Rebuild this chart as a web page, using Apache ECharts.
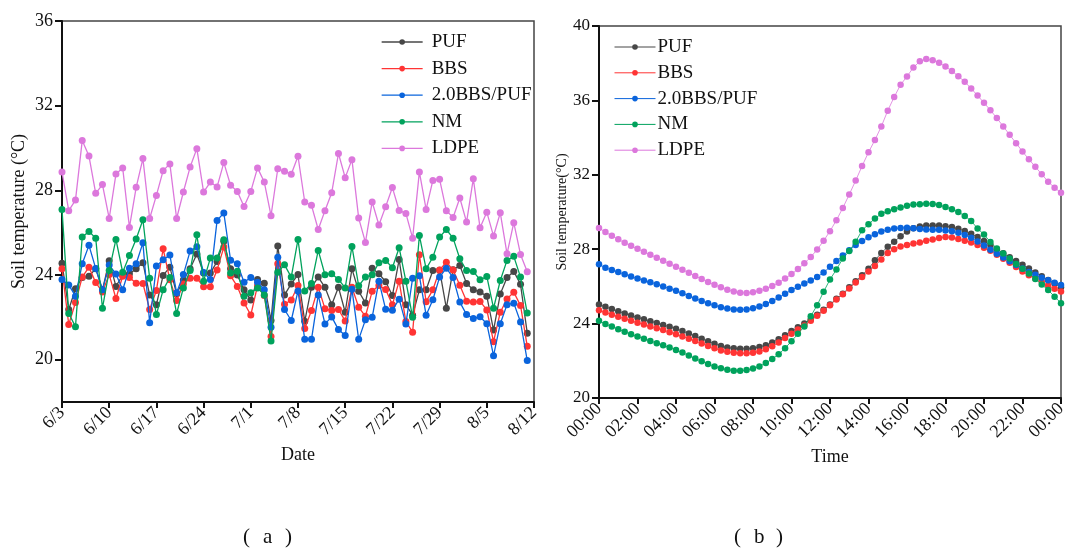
<!DOCTYPE html>
<html><head><meta charset="utf-8">
<script src="https://cdn.jsdelivr.net/npm/echarts@6/dist/echarts.min.js"></script>
<style>html,body{margin:0;padding:0;background:#fff}#c{width:1070px;height:551px}</style>
</head><body><div id="c"></div>
<script>
// ---------- Panel (a): daily soil temperature ----------
const dates = ['6/3','6/4','6/5','6/6','6/7','6/8','6/9','6/10','6/11','6/12','6/13','6/14','6/15','6/16','6/17','6/18','6/19','6/20','6/21','6/22','6/23','6/24','6/25','6/26','6/27','6/28','6/29','6/30',
'7/1','7/2','7/3','7/4','7/5','7/6','7/7','7/8','7/9','7/10','7/11','7/12','7/13','7/14','7/15','7/16','7/17','7/18','7/19','7/20','7/21','7/22','7/23','7/24','7/25','7/26','7/27','7/28','7/29','7/30','7/31',
'8/1','8/2','8/3','8/4','8/5','8/6','8/7','8/8','8/9','8/10','8/11','8/12'];
const dayPUF = [24.56,22.37,23.35,23.88,23.94,24.3,23.3,24.67,23.46,24.0,24.06,24.29,24.58,23.05,22.6,23.98,24.37,23.1,23.76,24.3,24.99,24.1,24.09,24.64,25.6,24.3,24.0,23.3,22.82,23.79,23.61,21.85,25.37,23.06,23.58,24.02,21.81,23.42,23.9,23.42,22.59,23.42,22.24,24.29,23.23,22.68,24.32,24.06,23.68,23.03,24.73,22.6,22.1,23.3,23.3,24.21,24.23,22.43,24.25,24.45,23.6,23.3,23.2,23.0,21.4,23.1,23.88,24.17,23.56,21.25];
const dayBBS = [24.29,21.66,22.7,23.9,24.37,23.64,23.2,24.02,22.89,23.94,23.88,23.61,23.6,22.37,23.27,25.24,23.77,22.79,23.58,23.85,23.85,23.44,23.44,24.24,25.32,23.96,23.46,22.68,22.11,23.5,23.03,21.1,24.53,22.62,22.82,23.5,21.47,22.32,23.42,22.41,22.32,22.37,21.83,23.42,22.48,22.05,23.23,23.5,23.31,22.6,23.71,21.8,21.3,24.96,22.74,23.3,24.24,24.6,24.24,23.52,22.76,22.73,22.75,22.35,20.85,22.24,22.87,23.19,22.56,20.63];
const dayBP = [23.79,23.53,23.0,24.53,25.4,24.31,23.3,24.47,24.05,23.3,24.32,24.53,25.52,21.74,24.42,24.72,24.94,23.16,24.02,25.13,25.33,24.12,23.79,26.58,26.93,24.7,24.53,23.66,23.88,23.66,23.3,21.53,24.84,22.37,21.85,23.25,20.96,20.96,23.05,21.69,22.02,21.42,21.14,23.33,20.96,21.88,22.0,23.71,22.38,22.34,22.86,21.69,23.85,23.96,22.1,22.83,23.9,24.32,23.88,22.72,22.13,21.95,22.03,21.7,20.19,21.7,22.6,22.67,21.78,19.96];
const dayNM = [27.1,22.18,21.56,25.79,26.06,25.74,22.43,24.21,25.68,24.13,24.92,25.7,26.61,23.85,22.13,23.3,23.88,22.18,23.39,24.21,25.9,23.71,24.8,24.8,25.67,24.09,24.18,23.0,23.16,23.38,23.06,20.88,24.13,24.48,23.9,25.68,23.25,23.6,25.16,24.01,24.06,23.79,23.39,25.35,23.49,23.9,24.01,24.58,24.69,24.34,25.29,23.71,22.0,25.87,24.29,24.84,25.79,26.15,25.74,24.77,24.21,24.17,23.77,23.93,22.43,23.74,24.69,24.88,23.9,22.2];
const dayLDPE = [28.87,27.04,27.54,30.35,29.62,27.86,28.27,26.67,28.77,29.06,26.25,28.14,29.5,26.67,27.76,28.93,29.25,26.67,27.92,29.1,29.97,27.92,28.39,28.16,29.31,28.24,27.95,27.24,27.95,29.06,28.39,26.8,29.02,28.9,28.76,29.61,27.45,27.29,26.15,27.04,27.89,29.74,28.6,29.45,26.69,25.54,27.45,26.36,27.23,28.13,27.05,26.91,25.74,28.87,27.1,28.47,28.52,27.04,26.72,27.64,26.5,28.55,26.23,26.97,25.84,26.94,25.0,26.47,24.97,24.15];
const leftTicks = [20,24,28,32,36];

// ---------- Panel (b): diurnal soil temperature ----------
const times = ['00:00','00:20','00:40','01:00','01:20','01:40','02:00','02:20','02:40','03:00','03:20','03:40','04:00','04:20','04:40','05:00','05:20','05:40','06:00','06:20','06:40','07:00','07:20','07:40','08:00','08:20','08:40','09:00','09:20','09:40','10:00','10:20','10:40','11:00','11:20','11:40','12:00','12:20','12:40','13:00','13:20','13:40','14:00','14:20','14:40','15:00','15:20','15:40','16:00','16:20','16:40','17:00','17:20','17:40','18:00','18:20','18:40','19:00','19:20','19:40','20:00','20:20','20:40','21:00','21:20','21:40','22:00','22:20','22:40','23:00','23:20','23:40','00:00'];
const hrPUF = [25.03,24.9,24.78,24.66,24.54,24.43,24.33,24.23,24.13,24.03,23.93,23.83,23.72,23.6,23.47,23.33,23.19,23.05,22.92,22.8,22.72,22.67,22.65,22.65,22.68,22.74,22.84,22.98,23.16,23.38,23.6,23.8,24.0,24.22,24.47,24.74,25.03,25.33,25.6,25.95,26.28,26.6,26.95,27.4,27.8,28.13,28.4,28.7,28.95,29.12,29.22,29.27,29.28,29.27,29.24,29.19,29.1,28.98,28.83,28.65,28.44,28.22,28.0,27.78,27.57,27.37,27.17,26.96,26.75,26.55,26.35,26.15,25.95];
const hrBBS = [24.72,24.6,24.48,24.37,24.26,24.15,24.05,23.95,23.85,23.75,23.65,23.54,23.43,23.31,23.19,23.06,22.93,22.8,22.67,22.56,22.48,22.43,22.4,22.4,22.43,22.5,22.62,22.78,22.98,23.22,23.45,23.68,23.9,24.15,24.42,24.69,24.99,25.3,25.58,25.89,26.21,26.51,26.8,27.1,27.45,27.8,28.0,28.14,28.22,28.3,28.36,28.45,28.52,28.6,28.66,28.63,28.55,28.45,28.36,28.23,28.08,27.91,27.7,27.48,27.27,27.04,26.8,26.6,26.42,26.25,26.05,25.87,25.72];
const hrBP = [27.19,27.0,26.88,26.77,26.65,26.53,26.42,26.32,26.22,26.12,26.0,25.88,25.76,25.63,25.49,25.35,25.22,25.1,24.98,24.88,24.81,24.76,24.74,24.76,24.82,24.92,25.06,25.22,25.4,25.6,25.8,25.98,26.15,26.32,26.5,26.75,27.05,27.36,27.66,27.95,28.22,28.44,28.64,28.8,28.95,29.05,29.11,29.14,29.15,29.12,29.08,29.06,29.05,29.04,29.01,28.96,28.88,28.77,28.62,28.42,28.2,27.97,27.75,27.55,27.35,27.15,26.96,26.78,26.62,26.47,26.33,26.19,26.07];
const hrNM = [24.15,23.98,23.84,23.7,23.56,23.43,23.3,23.19,23.07,22.95,22.83,22.71,22.58,22.44,22.28,22.12,21.97,21.83,21.7,21.6,21.52,21.47,21.46,21.5,21.58,21.7,21.88,22.1,22.35,22.68,23.05,23.45,23.85,24.4,24.99,25.71,26.37,26.91,27.5,27.9,28.4,29.02,29.34,29.65,29.9,30.04,30.15,30.24,30.33,30.4,30.42,30.45,30.43,30.38,30.27,30.15,30.0,29.79,29.52,29.11,28.79,28.39,28.04,27.77,27.5,27.2,26.95,26.7,26.4,26.1,25.8,25.45,25.1];
const hrLDPE = [29.14,28.92,28.72,28.53,28.35,28.18,28.02,27.86,27.7,27.54,27.38,27.22,27.06,26.9,26.73,26.56,26.4,26.24,26.09,25.95,25.82,25.72,25.66,25.65,25.68,25.76,25.87,26.02,26.2,26.42,26.66,26.93,27.24,27.58,27.98,28.45,28.97,29.56,30.22,30.94,31.69,32.47,33.21,33.87,34.6,35.45,36.18,36.84,37.29,37.77,38.1,38.22,38.16,38.02,37.82,37.58,37.3,37.0,36.64,36.26,35.87,35.47,35.05,34.6,34.15,33.7,33.25,32.83,32.43,32.03,31.63,31.3,31.04];

const names = ['PUF','BBS','2.0BBS/PUF','NM','LDPE'];
const colors = ['#474747','#ff3434','#0a64dc','#00a25c','#dc78dc'];
const dayData = [dayPUF, dayBBS, dayBP, dayNM, dayLDPE];
const hrData = [hrPUF, hrBBS, hrBP, hrNM, hrLDPE];

const serif = '"Liberation Serif","DejaVu Serif",serif';
const axisText = {color:'#111', fontFamily:serif, fontSize:18};

function xAxisCfg(gi, cats, interval, name, gap){
  return {type:'category', gridIndex:gi, data:cats, boundaryGap:false,
    name:name, nameLocation:'middle', nameGap:gap, nameTextStyle:{color:'#111',fontFamily:serif,fontSize:18},
    axisLine:{lineStyle:{color:'#111',width:2}},
    axisTick:{show:true, interval:interval, length:6, inside:false, lineStyle:{color:'#111',width:2}},
    axisLabel:Object.assign({interval:interval, rotate:45, margin:8}, axisText),
    splitLine:{show:false}};
}

const series = [];
for (let k=0;k<5;k++){
  series.push({name:names[k], type:'line', xAxisIndex:0, yAxisIndex:0, data:dayData[k],
    symbol:'circle', symbolSize:7, showSymbol:true, showAllSymbol:true,
    itemStyle:{color:colors[k]}, lineStyle:{color:colors[k], width:1.3}, z:2+k, animation:false});
}
for (let k=0;k<5;k++){
  series.push({name:names[k], type:'line', xAxisIndex:1, yAxisIndex:1, data:hrData[k],
    symbol:'circle', symbolSize:6.5, showSymbol:true, showAllSymbol:true,
    itemStyle:{color:colors[k]}, lineStyle:{color:colors[k], width:1, opacity:0.8}, z:2+k, animation:false});
}

const legText = {color:'#111', fontFamily:serif, fontSize:19, lineHeight:20};
const capStyle = {fontFamily:serif, fontSize:21, fill:'#111'};

function caption(ch, cx){
  return [
    {type:'text', left:cx-25, top:527, style:Object.assign({text:'('}, capStyle)},
    {type:'text', left:cx-5, top:527, style:Object.assign({text:ch}, capStyle)},
    {type:'text', left:cx+17, top:527, style:Object.assign({text:')'}, capStyle)}
  ];
}

const chart = echarts.init(document.getElementById('c'), null, {renderer:'canvas'});
chart.setOption({
  backgroundColor:'#fff',
  animation:false,
  grid:[
    {left:62, right:536, top:21, bottom:149, show:true, borderColor:'#444', borderWidth:1.5, containLabel:false},
    {left:599, right:9, top:26, bottom:153, show:true, borderColor:'#444', borderWidth:1.5, containLabel:false}
  ],
  legend:[
    {left:376, top:27, orient:'vertical', itemWidth:41, itemHeight:7, itemGap:6.6, data:names, selectedMode:false,
     lineStyle:{width:1.3}, textStyle:Object.assign({}, legText, {padding:[0,0,0,4]})},
    {left:609, top:32, orient:'vertical', itemWidth:41, itemHeight:7, itemGap:5.8, data:names, selectedMode:false,
     lineStyle:{width:1}, textStyle:Object.assign({}, legText, {padding:[0,0,0,-3]})}
  ],
  xAxis:[ xAxisCfg(0, dates, 6, 'Date', 41), xAxisCfg(1, times, 5, 'Time', 43) ],
  yAxis:[
    {type:'value', gridIndex:0, min:18, max:36,
     name:'Soil temperature (°C)', nameLocation:'middle', nameGap:34, nameTextStyle:{color:'#111',fontFamily:serif,fontSize:18},
     axisLine:{show:true, lineStyle:{color:'#111',width:2}},
     axisTick:{show:true, length:7, customValues:leftTicks, lineStyle:{color:'#111',width:2}},
     axisLabel:Object.assign({margin:9, customValues:leftTicks}, axisText),
     splitLine:{show:false}},
    {type:'value', gridIndex:1, min:20, max:40, interval:4,
     name:'Soil temperature(°C)', nameLocation:'middle', nameGap:27, nameTextStyle:{color:'#111',fontFamily:serif,fontSize:14},
     axisLine:{show:true, lineStyle:{color:'#111',width:2}},
     axisTick:{show:true, length:7, lineStyle:{color:'#111',width:2}},
     axisLabel:Object.assign({margin:9}, axisText, {fontSize:17}),
     splitLine:{show:false}}
  ],
  graphic: caption('a', 268).concat(caption('b', 759)),
  series:series
});
</script></body></html>
